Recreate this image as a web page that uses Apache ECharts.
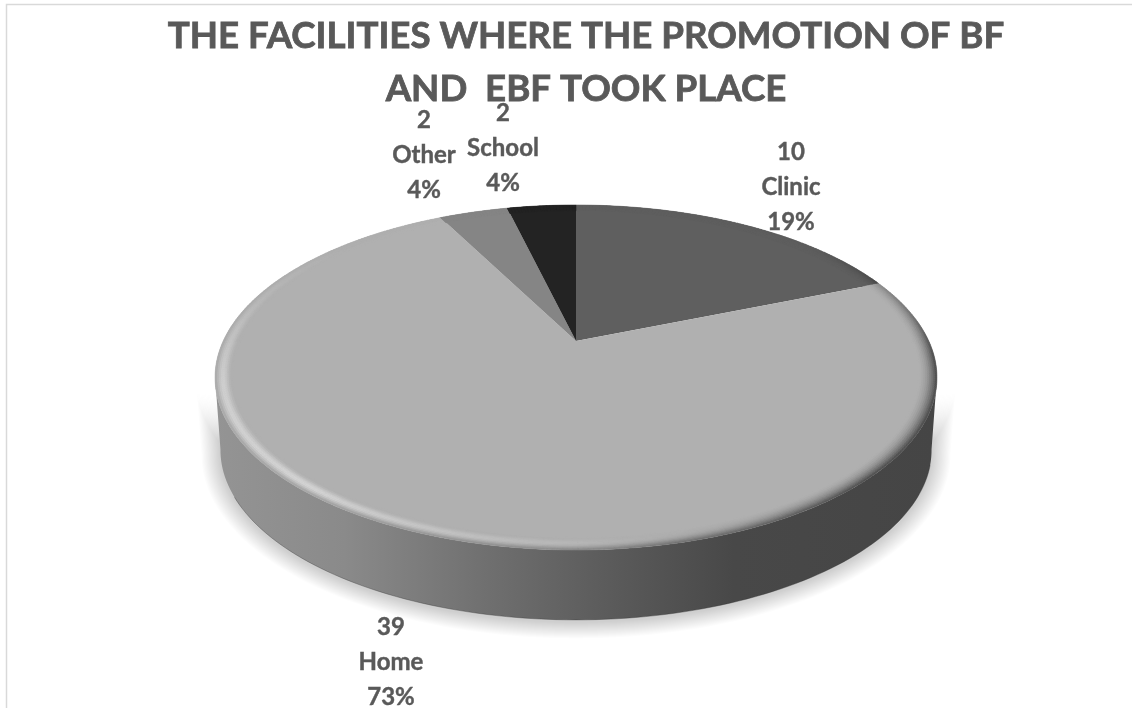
<!DOCTYPE html>
<html><head><meta charset="utf-8">
<style>html,body{margin:0;padding:0;background:#fff}#c{width:1132px;height:708px}</style>
<script src="https://cdn.jsdelivr.net/npm/echarts@6/dist/echarts.min.js"></script>
</head><body><div id="c"></div>
<script>
const categories = ['Clinic', 'Home', 'Other', 'School'];
const counts = [10, 39, 2, 2];
const percentLabels = ['19%', '73%', '4%', '4%'];
const sliceColors = ['#5f5f5f', '#b0b0b0', '#858585', '#232323'];
const titleText = 'THE FACILITIES WHERE THE PROMOTION OF BF\nAND  EBF TOOK PLACE';
const labelCentres = [[791, 187.5], [391, 662], [424, 155], [503, 148]];

const total = counts.reduce((a, b) => a + b, 0);
const apex = [576, 341];
const tilt = 0.2116, depthScale = 164.8, widthScale = 352.8;
const wallDrop = 73, wallShrink = 0.985;
const rad = d => d * Math.PI / 180;

function project(deg, r) {
  const X = r * Math.sin(rad(deg)), Y = r * Math.cos(rad(deg));
  const w = 1 + tilt * Y;
  return [apex[0] + widthScale * X / w, apex[1] - depthScale * Y / w];
}
function wallPoint(deg) {
  const p = project(deg, 1);
  return [apex[0] + (p[0] - apex[0]) * wallShrink, apex[1] + (p[1] - apex[1]) * wallShrink + wallDrop];
}
function lerpTable(t, v) {
  for (let i = 1; i < t.length; i++) {
    if (v <= t[i][0]) {
      const a = t[i - 1], b = t[i];
      return a[1] + (b[1] - a[1]) * (v - a[0]) / (b[0] - a[0]);
    }
  }
  return t[t.length - 1][1];
}
const darkTable = [[0,0],[50,0.03],[75,0.3],[95,0.6],[135,0.6],[165,0.4],[180,0.26],[220,0.12],[270,0.06],[300,0.02],[360,0]];
const lightTable = [[0,0],[150,0],[180,0.28],[220,0.58],[255,0.48],[285,0.14],[310,0],[360,0]];

function hexRgb(h) { return [1, 3, 5].map(i => parseInt(h.substr(i, 2), 16)); }
function shade(rgb, u, deg) {
  const d = lerpTable(darkTable, deg) * u * u;
  const b = Math.max(0, 1 - Math.abs(u - 0.62) / 0.5);
  const l = lerpTable(lightTable, deg) * b * b * (3 - 2 * b);
  return 'rgb(' + rgb.map(c => Math.round((c + (255 - c) * l) * (1 - d))).join(',') + ')';
}
function sliceRange(i) {
  let s = 0;
  for (let k = 0; k < i; k++) s += counts[k];
  return [s / total * 360, (s + counts[i]) / total * 360];
}

function renderWall(params, api) {
  const [a0, a1] = sliceRange(params.dataIndex);
  const lo = Math.max(a0, 102), hi = Math.min(a1, 258);
  if (lo >= hi) return { type: 'group', children: [] };
  const top = [], bottom = [];
  for (let d = lo; d <= hi + 1e-6; d += (hi - lo) / 120) { top.push(project(d, 1)); bottom.unshift(wallPoint(d)); }
  const poly = top.concat(bottom);
  const fill = {
    type: 'linear', global: true, x: 215, y: 0, x2: 936, y2: 0,
    colorStops: [
      { offset: 0, color: '#949494' }, { offset: 0.18, color: '#8a8a8a' },
      { offset: 0.38, color: '#6f6f6f' }, { offset: 0.52, color: '#5e5e5e' },
      { offset: 0.72, color: '#484848' }, { offset: 1, color: '#454545' }
    ]
  };
  const children = [];
  const layers = 16, cx = 576, cy = 413;
  for (let e = layers; e >= 1; e--) {
    const g = 1 + e / 300;
    const gy = 1 + e / 200;
    children.push({
      type: 'polygon',
      shape: { points: poly.map(p => [cx + (p[0] - cx) * g, cy + (p[1] - cy) * gy + 2]) },
      style: { fill: 'rgba(0,0,0,0.011)' }
    });
  }
  children.push({ type: 'polygon', shape: { points: poly }, style: { fill } });
  children.push({ type: 'polyline', shape: { points: bottom.slice(12, -4) }, style: { fill: 'none', stroke: 'rgba(50,50,50,0.35)', lineWidth: 1 } });
  return { type: 'group', children };
}

function renderTop(params, api) {
  const i = params.dataIndex;
  const [a0, a1] = sliceRange(i);
  const color = sliceColors[i], rgb = hexRgb(color);
  const children = [];
  const pts = [apex];
  const steps = Math.ceil((a1 - a0) * 1.5);
  for (let s = 0; s <= steps; s++) pts.push(project(a0 + (a1 - a0) * s / steps, 1));
  children.push({ type: 'polygon', shape: { points: pts }, style: { fill: color } });
  const rings = 10, inner = 0.95;
  for (let r = 0; r < rings; r++) {
    const r0 = inner + (1 - inner) * r / rings, r1 = inner + (1 - inner) * (r + 1) / rings;
    for (let s = 0; s < steps; s++) {
      const d0 = a0 + (a1 - a0) * s / steps, d1 = a0 + (a1 - a0) * (s + 1) / steps;
      const c = shade(rgb, (r + 0.5) / rings, (d0 + d1) / 2);
      children.push({
        type: 'polygon',
        shape: { points: [project(d0, r0), project(d1, r0), project(d1, r1), project(d0, r1)] },
        style: { fill: c, stroke: c, lineWidth: 0.5 }
      });
    }
  }
  return { type: 'group', children };
}

function renderLabel(params, api) {
  const i = params.dataIndex;
  return {
    type: 'text', x: labelCentres[i][0], y: labelCentres[i][1],
    style: {
      text: api.value(0) + '\n' + categories[i] + '\n' + percentLabels[i],
      fill: '#595959', font: 'bold 24px Lato', lineHeight: 35, align: 'center', verticalAlign: 'middle',
      stroke: '#595959', lineWidth: 0.4
    }
  };
}

const chart = echarts.init(document.getElementById('c'), null, { renderer: 'canvas' });
const seriesData = counts.map((v, i) => ({ name: categories[i], value: [v] }));
chart.setOption({
  animation: false,
  backgroundColor: '#ffffff',
  title: {
    text: titleText, left: 581, top: 5, textAlign: 'center',
    textStyle: { fontFamily: 'Lato', fontWeight: 'bold', fontSize: 36.7, lineHeight: 53, color: '#595959',
      textBorderColor: '#595959', textBorderWidth: 0.8 }
  },
  graphic: [{
    type: 'rect', shape: { x: 6.5, y: 4.5, width: 1200, height: 800 },
    style: { fill: 'none', stroke: '#d9d9d9', lineWidth: 1.5 }, silent: true
  }],
  series: [
    { type: 'custom', coordinateSystem: 'none', z: 1, silent: true, data: seriesData, renderItem: renderWall },
    { type: 'custom', coordinateSystem: 'none', z: 2, silent: true, data: seriesData, renderItem: renderTop },
    { type: 'custom', coordinateSystem: 'none', z: 3, silent: true, data: seriesData, renderItem: renderLabel }
  ]
});
</script></body></html>
